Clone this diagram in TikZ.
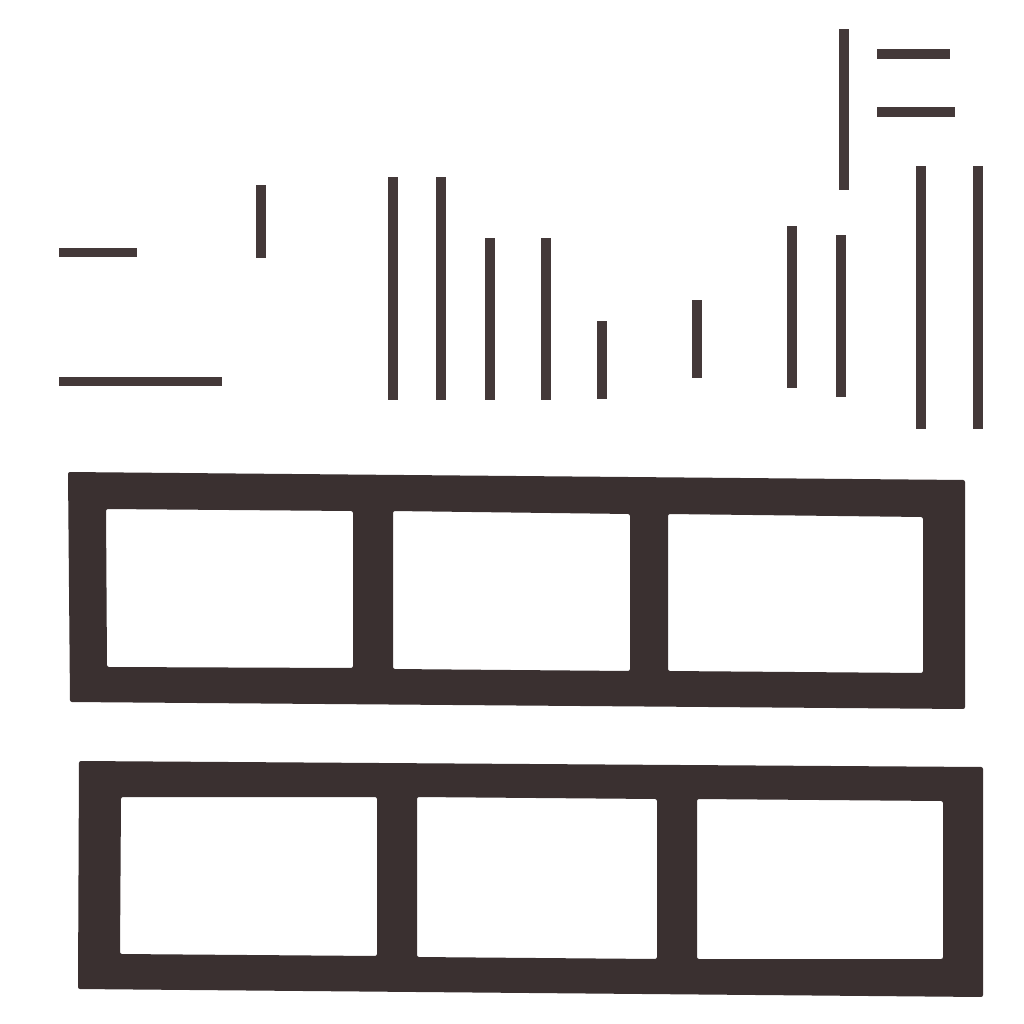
\documentclass[tikz,border=0pt]{standalone}
\begin{document}
\definecolor{barcol}{RGB}{68,57,57}
\definecolor{framecol}{RGB}{58,48,48}
\begin{tikzpicture}[x=1pt,y=-1pt,
  bar/.style={fill=barcol},
  frame/.style={fill=framecol,even odd rule,rounded corners=2pt}]
\useasboundingbox (0,0) rectangle (1024,1024);
\fill[white] (0,0) rectangle (1024,1024);
% left horizontal bars
\fill[bar] (59,248) rectangle (137,257);
\fill[bar] (59,377) rectangle (222,386);
% small vertical
\fill[bar] (256,185) rectangle (266,258);
% vertical bars
\fill[bar] (388,177) rectangle (398,400);
\fill[bar] (436,177) rectangle (446,400);
\fill[bar] (485,238) rectangle (495,400);
\fill[bar] (541,238) rectangle (551,400);
\fill[bar] (597,321) rectangle (607,399);
\fill[bar] (692,300) rectangle (702,378);
\fill[bar] (787,226) rectangle (797,388);
\fill[bar] (836,235) rectangle (846,397);
\fill[bar] (839,29) rectangle (849,190);
\fill[bar] (877,49) rectangle (950,59);
\fill[bar] (877,107) rectangle (955,117);
\fill[bar] (916,166) rectangle (926,429);
\fill[bar] (973,166) rectangle (983,429);
% frame 1
\fill[frame] (68,472) -- (965,480) -- (965,709) -- (70,702) -- cycle
  (106,509) -- (353,511) -- (353,668) -- (107,667) -- cycle
  (393,511) -- (630,514) -- (630,671) -- (393,669) -- cycle
  (668,514) -- (923,517) -- (923,673) -- (668,671) -- cycle;
% frame 2
\fill[frame] (79,761) -- (983,767) -- (983,997) -- (78,989) -- cycle
  (121,797) -- (377,797) -- (377,956) -- (120,954) -- cycle
  (417,797) -- (657,799) -- (657,959) -- (417,957) -- cycle
  (697,799) -- (943,801) -- (943,959) -- (697,959) -- cycle;
\end{tikzpicture}
\end{document}
